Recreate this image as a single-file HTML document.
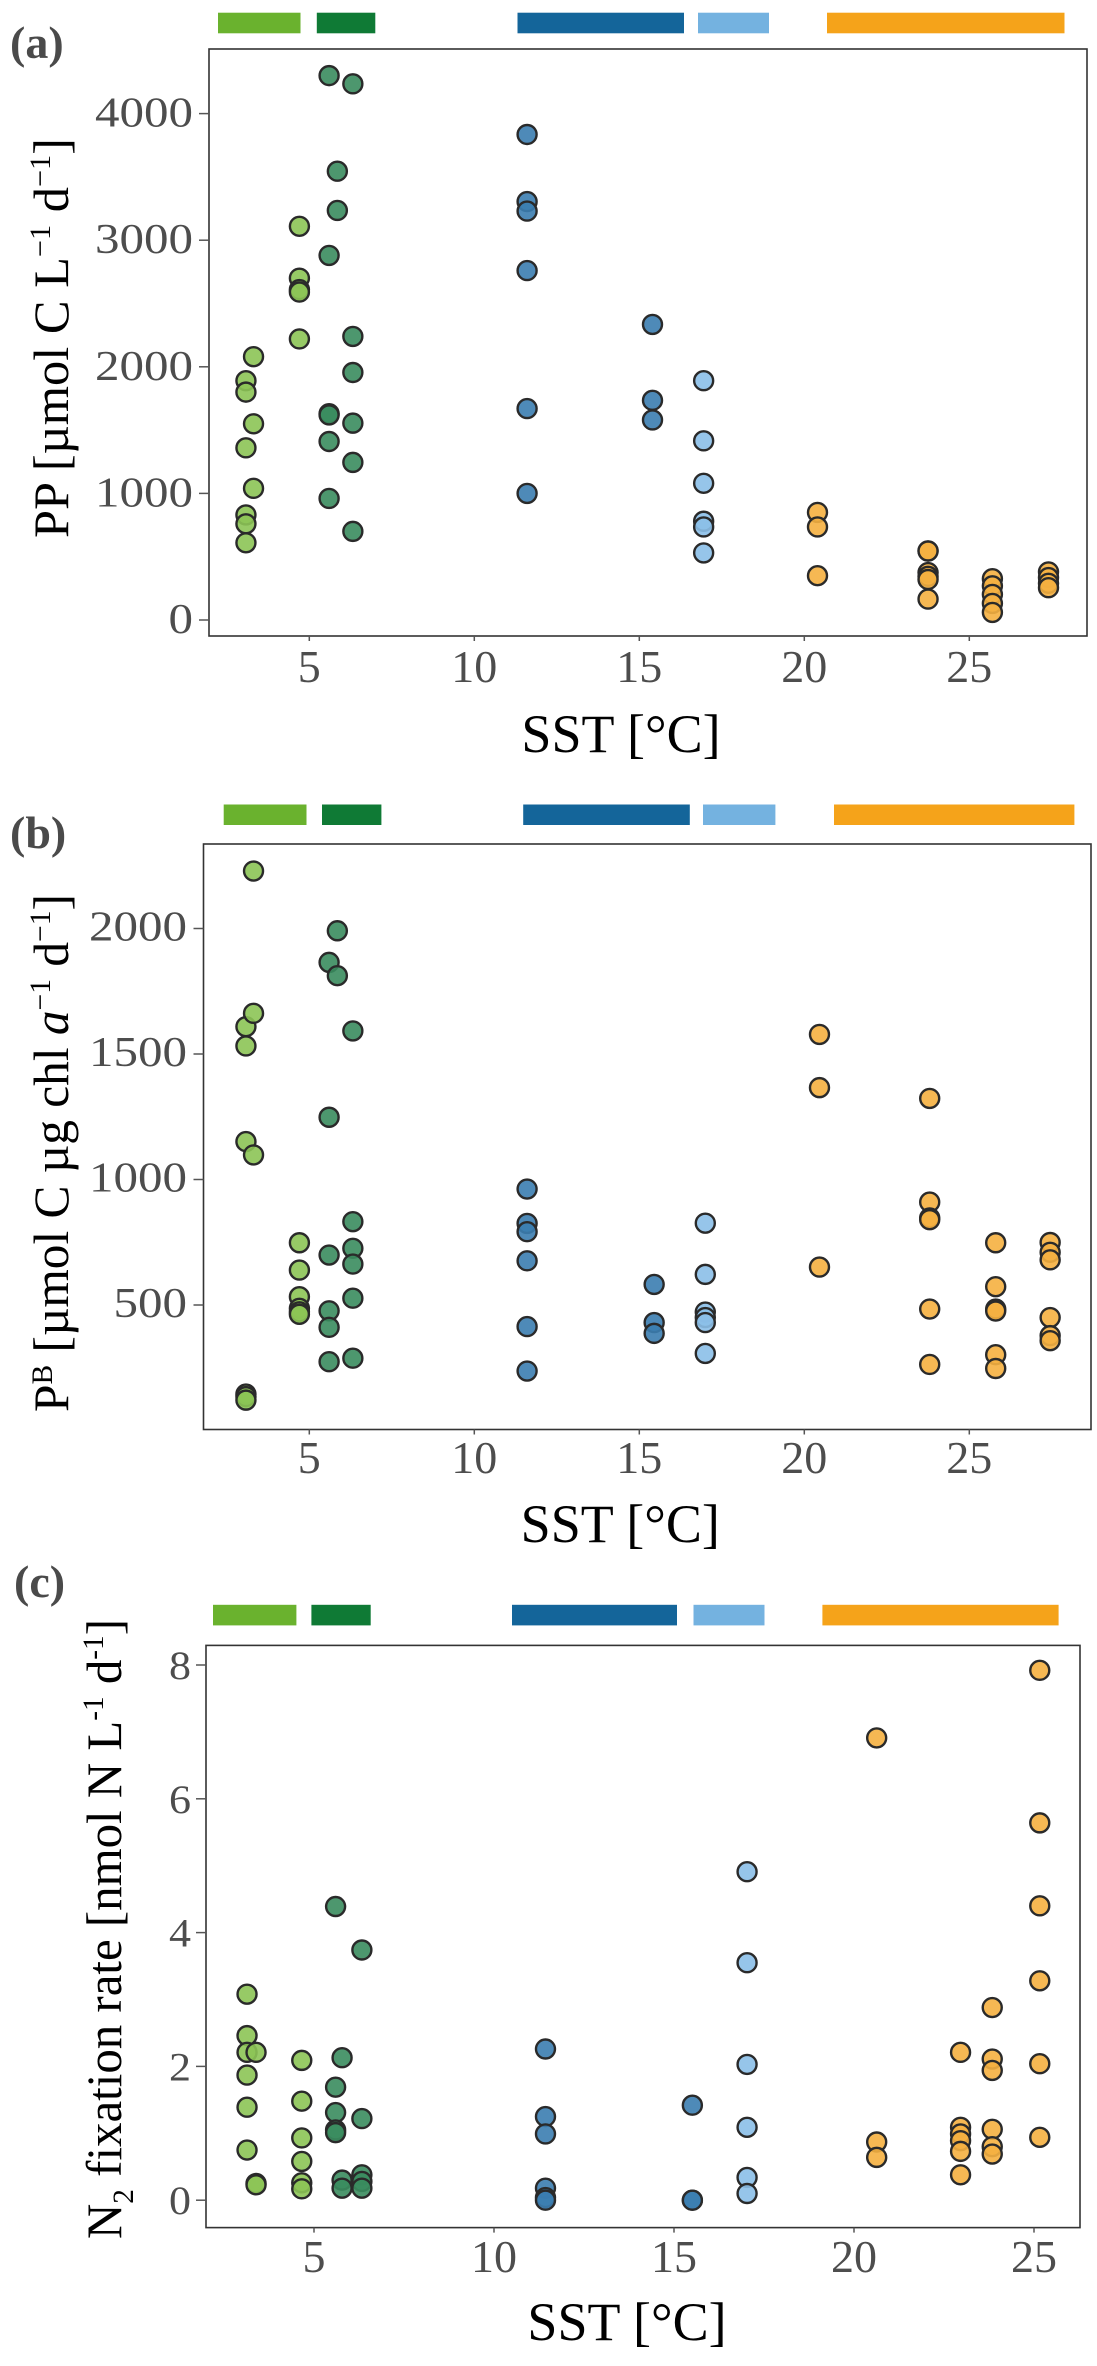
<!DOCTYPE html>
<html><head><meta charset="utf-8"><style>
html,body{margin:0;padding:0;background:#fff}
svg{display:block}
text{font-family:"Liberation Serif",serif}
</style></head><body>
<svg id="fig" width="1097" height="2366" viewBox="0 0 1097 2366" xmlns="http://www.w3.org/2000/svg"></svg>
<script>
// Group colours: 0 light green, 1 dark green, 2 dark blue, 3 light blue, 4 orange
const groupFill = ['#8cc455','#3a8c5e','#3b7db0','#8bbfe8','#f5b040'];
const barFill = ['#6ab22e','#0f7a35','#14659a','#74b2e0','#f5a31a'];

// Panel (a) PP
const aSST = [3.08,3.08,3.08,3.08,3.08,3.08, 3.31,3.31,3.31, 4.7,4.7,4.7,4.7,4.7,
  5.6,5.6,5.6,5.6,5.6,5.6, 5.85,5.85, 6.32,6.32,6.32,6.32,6.32,6.32,
  11.6,11.6,11.6,11.6,11.6,11.6, 15.4,15.4,15.4, 16.95,16.95,16.95,16.95,16.95,16.95,
  20.4,20.4,20.4, 23.75,23.75,23.75,23.75,23.75,23.75, 25.7,25.7,25.7,25.7,25.7, 27.4,27.4,27.4,27.4];
const aPP = [1890,1800,1360,830,760,610, 2080,1550,1040, 3110,2700,2610,2590,2220,
  4300,2880,1630,1620,1410,960, 3545,3235, 4235,2240,1955,1555,1245,700,
  3835,3305,3230,2760,1670,1000, 2335,1735,1580, 1890,1415,1080,780,735,530,
  850,735,350, 545,545,375,345,320,165, 326,270,202,131,60, 380,335,290,255];
const aGroup = [0,0,0,0,0,0, 0,0,0, 0,0,0,0,0, 1,1,1,1,1,1, 1,1, 1,1,1,1,1,1,
  2,2,2,2,2,2, 2,2,2, 3,3,3,3,3,3, 4,4,4, 4,4,4,4,4,4, 4,4,4,4,4, 4,4,4,4];
const aTicksY = [0,1000,2000,3000,4000];

// Panel (b) PB
const bSST = [3.08,3.08,3.08,3.08,3.08,3.08, 3.31,3.31,3.31, 4.7,4.7,4.7,4.7,4.7,4.7,
  5.6,5.6,5.6,5.6,5.6,5.6, 5.85,5.85, 6.32,6.32,6.32,6.32,6.32,6.32,
  11.6,11.6,11.6,11.6,11.6,11.6, 15.45,15.45,15.45, 17.0,17.0,17.0,17.0,17.0,17.0,
  20.46,20.46,20.46, 23.8,23.8,23.8,23.8,23.8,23.8, 25.8,25.8,25.8,25.8,25.8,25.8,
  27.45,27.45,27.45,27.45,27.45,27.45];
const bPB = [1609,1532,1151,145,135,121, 2229,1662,1098, 748,639,533,487,473,463,
  1865,1248,699,477,411,274, 1991,1812, 1592,832,726,663,527,288,
  962,825,792,676,414,237, 582,430,387, 826,622,472,450,430,307,
  1578,1366,651, 1323,910,847,840,484,263, 748,573,484,476,302,247,
  749,710,680,450,378,358];
const bGroup = [0,0,0,0,0,0, 0,0,0, 0,0,0,0,0,0, 1,1,1,1,1,1, 1,1, 1,1,1,1,1,1,
  2,2,2,2,2,2, 2,2,2, 3,3,3,3,3,3, 4,4,4, 4,4,4,4,4,4, 4,4,4,4,4,4, 4,4,4,4,4,4];
const bTicksY = [500,1000,1500,2000];

// Panel (c) N2 fixation
const cSST = [3.14,3.14,3.14,3.14,3.14,3.14, 3.39,3.39,3.39, 4.66,4.66,4.66,4.66,4.66,4.66,
  5.6,5.6,5.6,5.6,5.6, 5.78,5.78,5.78, 6.33,6.33,6.33,6.33,6.33,
  11.43,11.43,11.43,11.43,11.43,11.43, 15.51,15.51,15.51, 17.03,17.03,17.03,17.03,17.03,17.03,
  20.63,20.63,20.63, 22.96,22.96,22.96,22.96,22.96,22.96, 23.84,23.84,23.84,23.84,23.84,23.84,
  25.16,25.16,25.16,25.16,25.16,25.16];
const cN2 = [3.08,2.46,2.21,1.87,1.39,0.75, 2.21,0.25,0.23, 2.09,1.48,0.93,0.58,0.26,0.17,
  4.39,1.69,1.31,1.05,1.01, 2.13,0.30,0.18, 3.74,1.22,0.38,0.28,0.18,
  2.26,1.25,0.99,0.18,0.04,0.0, 1.42,0.0,0.0, 4.91,3.55,2.03,1.09,0.34,0.10,
  6.91,0.87,0.64, 2.21,1.09,0.99,0.89,0.73,0.38, 2.88,2.11,1.94,1.06,0.80,0.69,
  7.92,5.64,4.40,3.28,2.04,0.94];
const cGroup = [0,0,0,0,0,0, 0,0,0, 0,0,0,0,0,0, 1,1,1,1,1, 1,1,1, 1,1,1,1,1,
  2,2,2,2,2,2, 2,2,2, 3,3,3,3,3,3, 4,4,4, 4,4,4,4,4,4, 4,4,4,4,4,4, 4,4,4,4,4,4];
const cTicksY = [0,2,4,6,8];
const xTicks = [5,10,15,20,25];

const NS = 'http://www.w3.org/2000/svg';
const svg = document.getElementById('fig');
function mk(tag, attrs, parent) {
  const e = document.createElementNS(NS, tag);
  for (const k in attrs) e.setAttribute(k, attrs[k]);
  (parent || svg).appendChild(e);
  return e;
}

const panels = [
  {key:'a', label:'(a)', sst:aSST, val:aPP, grp:aGroup, yt:aTicksY,
   x:t=>144.3+33*t, y:v=>620-0.1266*v,
   frame:[209,49,1087,636], tickRight:193, tickOff:13, tickFont:42, digitW:24.5,
   xLabelY:682, xTitleY:752,
   bars:[[218,300.5],[316.8,375.3],[517.5,684],[698,769],[827,1064.5]], barY:[12.7,33.3],
   lab:[10,58], ytitle:{x:68,cy:338,len:400}},
  {key:'b', label:'(b)', sst:bSST, val:bPB, grp:bGroup, yt:bTicksY,
   x:t=>144.3+33*t, y:v=>1430.5-0.251*v,
   frame:[203.5,844,1091,1429.5], tickRight:187, tickOff:12, tickFont:42, digitW:24.5,
   xLabelY:1473, xTitleY:1542,
   bars:[[223.7,306.5],[322,381.4],[523.2,689.8],[703,775.4],[834,1074.4]], barY:[804.5,825],
   lab:[10,848], ytitle:{x:68,cy:1153,len:518}},
  {key:'c', label:'(c)', sst:cSST, val:cN2, grp:cGroup, yt:cTicksY,
   x:t=>134+36*t, y:v=>2200.2-66.9*v,
   frame:[206,1645.4,1080,2227.6], tickRight:191, tickOff:14, tickFont:40, digitW:22,
   xLabelY:2272, xTitleY:2340,
   bars:[[213,296.4],[311.4,370.7],[512,677],[693.5,764.5],[822.4,1058.6]], barY:[1604.8,1625.4],
   lab:[14,1597], ytitle:{x:121,cy:1929,len:620}}
];

panels.forEach(p => {
  const g = mk('g', {});
  
  

  const lab = mk('text', {x:p.lab[0], y:p.lab[1], 'font-size':46, 'font-weight':'bold', fill:'#4a4a4a'}, g);
  lab.textContent = p.label;
  
  

  p.bars.forEach((b, i) => {
    const r = mk('rect', {x:b[0], y:p.barY[0], width:b[1]-b[0], height:p.barY[1]-p.barY[0], fill:barFill[i]}, g);
    
    
  });

  const [x0,y0,x1,y1] = p.frame;
  const fr = mk('rect', {x:x0, y:y0, width:x1-x0, height:y1-y0, fill:'none', stroke:'#333', 'stroke-width':1.6}, g);
  
  

  p.yt.forEach(v => {
    const yy = p.y(v);
    const tk = mk('line', {x1:x0-10, x2:x0, y1:yy, y2:yy, stroke:'#555', 'stroke-width':1.5}, g);
    
    
    const s = String(v);
    const t = mk('text', {x:p.tickRight, y:yy+p.tickOff, 'font-size':p.tickFont, fill:'#4d4d4d', 'text-anchor':'end',
      textLength:s.length*p.digitW, lengthAdjust:'spacingAndGlyphs'}, g);
    t.textContent = s;
    
    
  });

  xTicks.forEach(v => {
    const xx = p.x(v);
    const tk = mk('line', {x1:xx, x2:xx, y1:y1, y2:y1+5, stroke:'#555', 'stroke-width':1.5}, g);
    
    
    const t = mk('text', {x:xx, y:p.xLabelY, 'font-size':46, fill:'#4d4d4d', 'text-anchor':'middle'}, g);
    t.textContent = String(v);
    
    
  });

  const xt = mk('text', {x:(x0+x1)/2+(p.key==='c'?-16:-27), y:p.xTitleY, 'font-size':54, fill:'#000', 'text-anchor':'middle'}, g);
  xt.textContent = 'SST [°C]';
  
  

  const yt = mk('text', {transform:`translate(${p.ytitle.x},${p.ytitle.cy}) rotate(-90)`, x:0, y:0, 'font-size':50, fill:'#000',
    'text-anchor':'middle', textLength:p.ytitle.len, lengthAdjust:'spacingAndGlyphs'}, g);
  if (p.key === 'a') {
    yt.innerHTML = 'PP  [µmol C L<tspan dy="-18" font-size="30">−1</tspan><tspan dy="18"> d</tspan><tspan dy="-18" font-size="30">−1</tspan><tspan dy="18">]</tspan>';
  } else if (p.key === 'b') {
    yt.innerHTML = 'P<tspan dy="-16" font-size="30">B</tspan><tspan dy="16"> [µmol C µg chl </tspan><tspan font-style="italic">a</tspan><tspan dy="-18" font-size="30">−1</tspan><tspan dy="18"> d</tspan><tspan dy="-18" font-size="30">−1</tspan><tspan dy="18">]</tspan>';
  } else {
    yt.innerHTML = 'N<tspan dy="12" font-size="30">2</tspan><tspan dy="-12"> fixation rate [nmol N L</tspan><tspan dy="-18" font-size="30">-1</tspan><tspan dy="18"> d</tspan><tspan dy="-18" font-size="30">-1</tspan><tspan dy="18">]</tspan>';
  }
  
  

  p.sst.forEach((t, i) => {
    const c = mk('circle', {cx:p.x(t), cy:p.y(p.val[i]), r:9.5, fill:groupFill[p.grp[i]], 'fill-opacity':0.9,
      stroke:'#2a2a2a', 'stroke-width':2.4}, g);
    
    
  });
});
</script>
</body></html>
